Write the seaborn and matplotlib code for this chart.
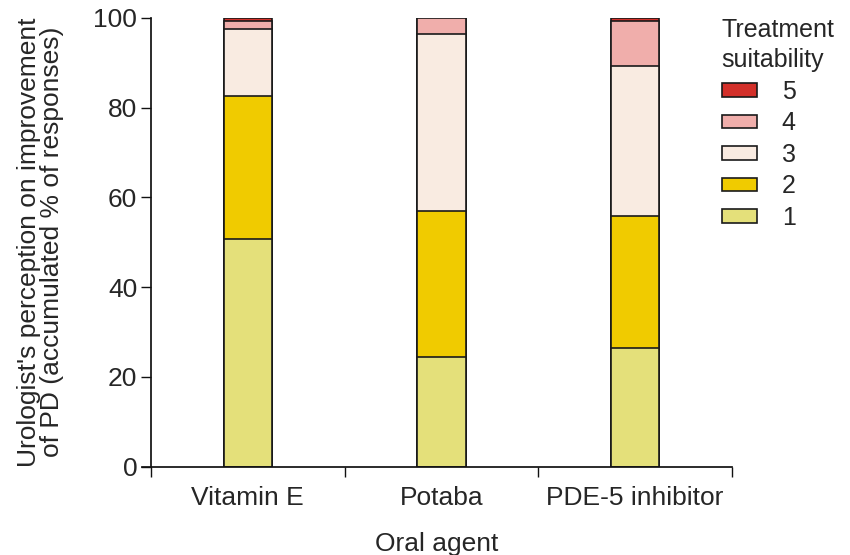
import numpy as np
import pandas as pd
import matplotlib
matplotlib.use("Agg")
import matplotlib.pyplot as plt
from matplotlib.patches import Patch
import seaborn as sns

sns.set_theme(style="white")
plt.rcParams["font.family"] = ["Liberation Sans", "DejaVu Sans"]

# ── data (segment % of responses per suitability score) ──────────────────────
agents = ["Vitamin E", "Potaba", "PDE-5 inhibitor"]
scores = ["1", "2", "3", "4", "5"]
score1 = [50.8, 24.5, 26.5]
score2 = [31.8, 32.5, 29.4]
score3 = [14.9, 39.4, 33.4]
score4 = [1.7, 3.6, 9.9]
score5 = [0.8, 0.0, 0.8]
colors = ["#e4e07a", "#f0cb00", "#f9ebe1", "#f0aeab", "#d3302a"]

seg = np.array([score1, score2, score3, score4, score5])
cum = np.cumsum(seg, axis=0)

FS = 19

fig, ax = plt.subplots(figsize=(8.5, 5.55), dpi=100)
fig.subplots_adjust(left=0.167, right=0.861, top=0.968, bottom=0.159)

# draw cumulative totals from the top score down so each layer shows through
for i in range(len(scores) - 1, -1, -1):
    df = pd.DataFrame({"agent": agents, "value": cum[i]})
    sns.barplot(data=df, x="agent", y="value", ax=ax, color=colors[i],
                width=0.25, edgecolor="#1a1a1a", linewidth=1.2,
                saturation=1, errorbar=None)

ax.set_xlim(-0.547, 2.5)
ax.set_ylim(0, 100)
ax.set_yticks([0, 20, 40, 60, 80, 100])
ax.set_xticks([-0.5, 0.5, 1.5, 2.5], minor=True)
ax.tick_params(axis="x", which="major", length=0, labelsize=FS, pad=14)
ax.tick_params(axis="x", which="minor", length=7, width=1, direction="out", color="#111111")
ax.tick_params(axis="y", length=7, width=1, direction="out", labelsize=FS, color="#111111", pad=3)
ax.tick_params(bottom=True, left=True, which="both")

for side in ["top", "right"]:
    ax.spines[side].set_visible(False)
ax.spines["left"].set_position(("data", -0.5))
ax.spines["left"].set_color("#111111")
ax.spines["bottom"].set_color("#111111")

ax.set_xlabel("Oral agent", fontsize=FS, labelpad=16)
ax.set_ylabel("Urologist's perception on improvement\nof PD (accumulated % of responses)",
              fontsize=FS, labelpad=21, linespacing=0.95)

handles = [Patch(facecolor=colors[i], edgecolor="#1a1a1a", linewidth=1.2, label=scores[i])
           for i in range(len(scores) - 1, -1, -1)]
leg = ax.legend(handles=handles, title="Treatment\nsuitability", loc="upper left",
                bbox_to_anchor=(0.849, 0.968), bbox_transform=fig.transFigure,
                frameon=False, fontsize=18, title_fontsize=18, borderpad=0, borderaxespad=0,
                handlelength=1.4, handleheight=0.45, labelspacing=0.3, handletextpad=1.0)
leg._legend_box.align = "left"
leg.get_title().set_linespacing(1.35)

plt.savefig("out.png", dpi=100)
